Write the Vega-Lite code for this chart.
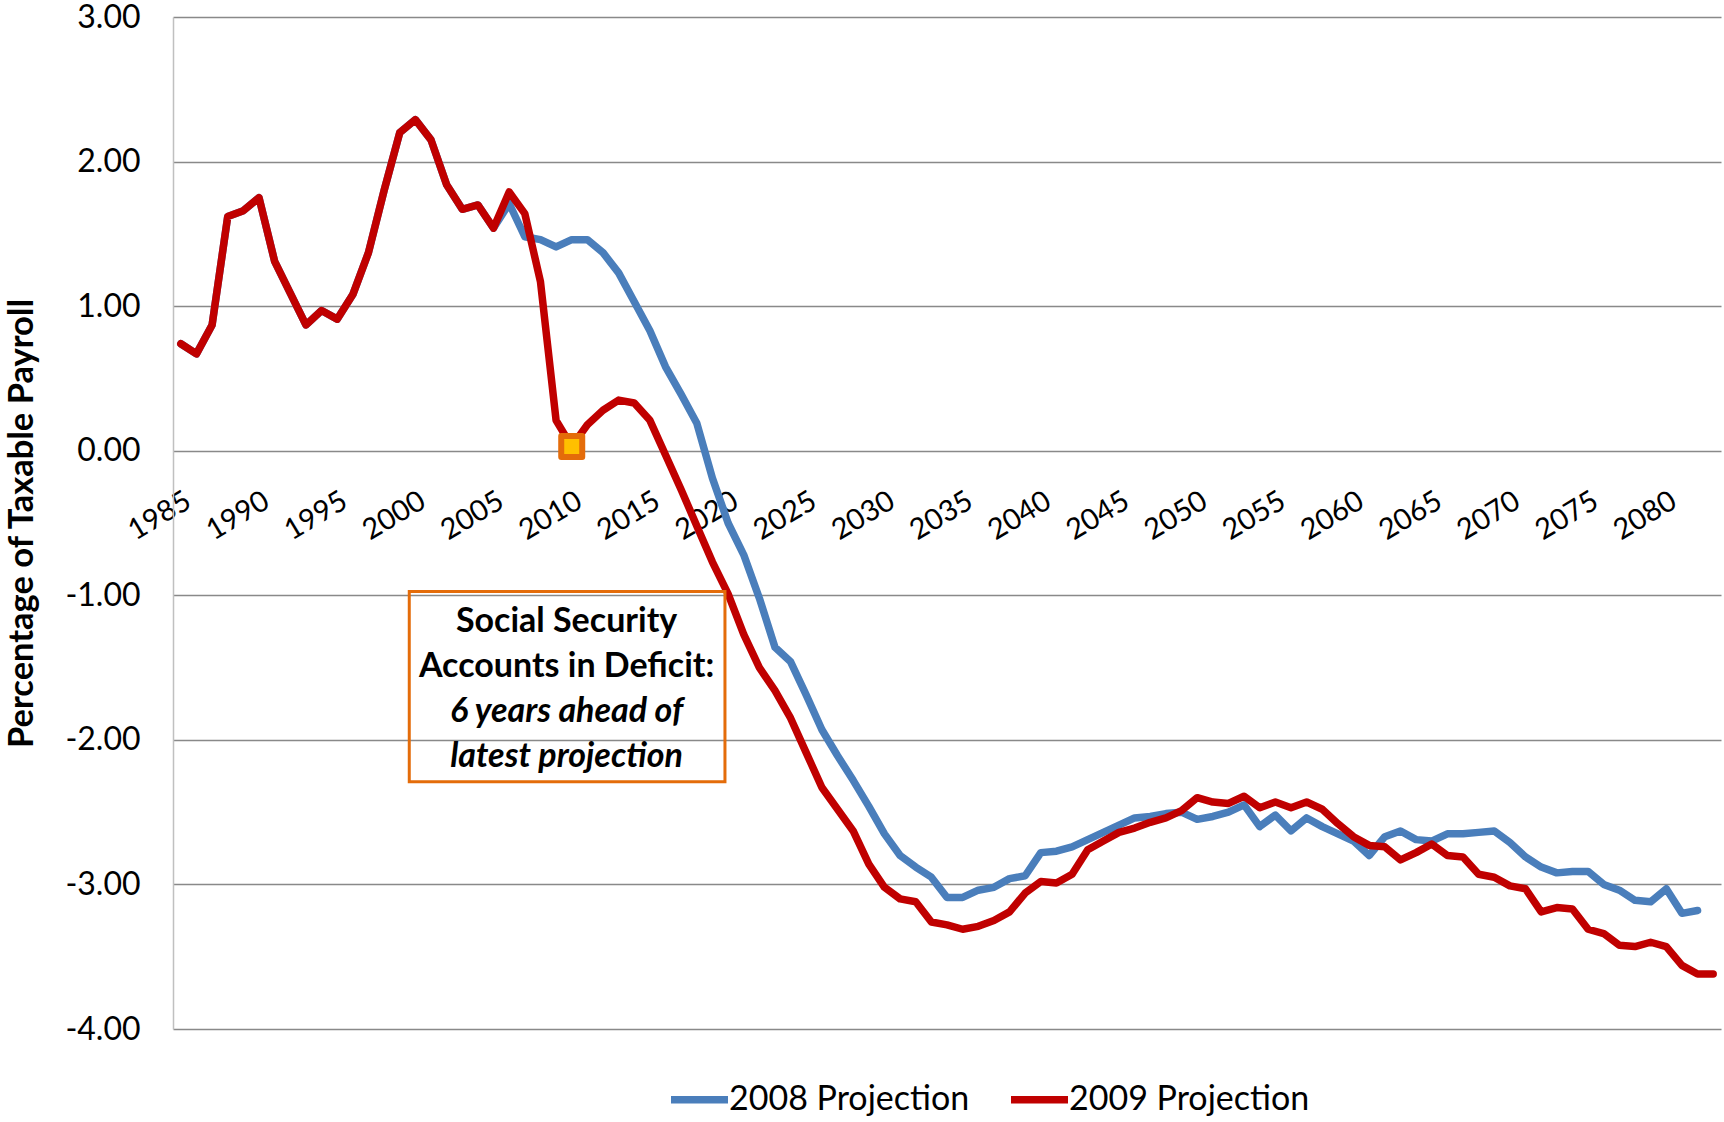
{
  "$schema": "https://vega.github.io/schema/vega-lite/v6.json",
  "width": 1548,
  "height": 1012,
  "autosize": {"type": "none"},
  "padding": {"left": 173, "top": 17, "right": 3, "bottom": 93},
  "background": "white",
  "config": {"view": {"stroke": null}, "font": "Lato"},
  "datasets": {
    "proj": [
      {"year":1985,"series":"2008 Projection","value":0.74},{"year":1986,"series":"2008 Projection","value":0.67},{"year":1987,"series":"2008 Projection","value":0.87},{"year":1988,"series":"2008 Projection","value":1.62},{"year":1989,"series":"2008 Projection","value":1.66},{"year":1990,"series":"2008 Projection","value":1.75},{"year":1991,"series":"2008 Projection","value":1.31},{"year":1992,"series":"2008 Projection","value":1.09},{"year":1993,"series":"2008 Projection","value":0.87},{"year":1994,"series":"2008 Projection","value":0.97},{"year":1995,"series":"2008 Projection","value":0.91},{"year":1996,"series":"2008 Projection","value":1.08},{"year":1997,"series":"2008 Projection","value":1.37},{"year":1998,"series":"2008 Projection","value":1.80},{"year":1999,"series":"2008 Projection","value":2.20},{"year":2000,"series":"2008 Projection","value":2.29},{"year":2001,"series":"2008 Projection","value":2.15},{"year":2002,"series":"2008 Projection","value":1.84},{"year":2003,"series":"2008 Projection","value":1.67},{"year":2004,"series":"2008 Projection","value":1.70},{"year":2005,"series":"2008 Projection","value":1.54},{"year":2006,"series":"2008 Projection","value":1.71},{"year":2007,"series":"2008 Projection","value":1.48},{"year":2008,"series":"2008 Projection","value":1.46},{"year":2009,"series":"2008 Projection","value":1.41},{"year":2010,"series":"2008 Projection","value":1.46},{"year":2011,"series":"2008 Projection","value":1.46},{"year":2012,"series":"2008 Projection","value":1.37},{"year":2013,"series":"2008 Projection","value":1.23},{"year":2014,"series":"2008 Projection","value":1.03},{"year":2015,"series":"2008 Projection","value":0.83},{"year":2016,"series":"2008 Projection","value":0.58},{"year":2017,"series":"2008 Projection","value":0.39},{"year":2018,"series":"2008 Projection","value":0.19},{"year":2019,"series":"2008 Projection","value":-0.19},{"year":2020,"series":"2008 Projection","value":-0.50},{"year":2021,"series":"2008 Projection","value":-0.72},{"year":2022,"series":"2008 Projection","value":-1.02},{"year":2023,"series":"2008 Projection","value":-1.36},{"year":2024,"series":"2008 Projection","value":-1.46},{"year":2025,"series":"2008 Projection","value":-1.69},{"year":2026,"series":"2008 Projection","value":-1.93},{"year":2027,"series":"2008 Projection","value":-2.11},{"year":2028,"series":"2008 Projection","value":-2.28},{"year":2029,"series":"2008 Projection","value":-2.46},{"year":2030,"series":"2008 Projection","value":-2.65},{"year":2031,"series":"2008 Projection","value":-2.80},{"year":2032,"series":"2008 Projection","value":-2.88},{"year":2033,"series":"2008 Projection","value":-2.95},{"year":2034,"series":"2008 Projection","value":-3.09},{"year":2035,"series":"2008 Projection","value":-3.09},{"year":2036,"series":"2008 Projection","value":-3.04},{"year":2037,"series":"2008 Projection","value":-3.02},{"year":2038,"series":"2008 Projection","value":-2.96},{"year":2039,"series":"2008 Projection","value":-2.94},{"year":2040,"series":"2008 Projection","value":-2.78},{"year":2041,"series":"2008 Projection","value":-2.77},{"year":2042,"series":"2008 Projection","value":-2.74},{"year":2043,"series":"2008 Projection","value":-2.69},{"year":2044,"series":"2008 Projection","value":-2.64},{"year":2045,"series":"2008 Projection","value":-2.59},{"year":2046,"series":"2008 Projection","value":-2.54},{"year":2047,"series":"2008 Projection","value":-2.53},{"year":2048,"series":"2008 Projection","value":-2.51},{"year":2049,"series":"2008 Projection","value":-2.50},{"year":2050,"series":"2008 Projection","value":-2.55},{"year":2051,"series":"2008 Projection","value":-2.53},{"year":2052,"series":"2008 Projection","value":-2.50},{"year":2053,"series":"2008 Projection","value":-2.45},{"year":2054,"series":"2008 Projection","value":-2.60},{"year":2055,"series":"2008 Projection","value":-2.52},{"year":2056,"series":"2008 Projection","value":-2.63},{"year":2057,"series":"2008 Projection","value":-2.54},{"year":2058,"series":"2008 Projection","value":-2.60},{"year":2059,"series":"2008 Projection","value":-2.65},{"year":2060,"series":"2008 Projection","value":-2.70},{"year":2061,"series":"2008 Projection","value":-2.80},{"year":2062,"series":"2008 Projection","value":-2.67},{"year":2063,"series":"2008 Projection","value":-2.63},{"year":2064,"series":"2008 Projection","value":-2.69},{"year":2065,"series":"2008 Projection","value":-2.70},{"year":2066,"series":"2008 Projection","value":-2.65},{"year":2067,"series":"2008 Projection","value":-2.65},{"year":2068,"series":"2008 Projection","value":-2.64},{"year":2069,"series":"2008 Projection","value":-2.63},{"year":2070,"series":"2008 Projection","value":-2.71},{"year":2071,"series":"2008 Projection","value":-2.81},{"year":2072,"series":"2008 Projection","value":-2.88},{"year":2073,"series":"2008 Projection","value":-2.92},{"year":2074,"series":"2008 Projection","value":-2.91},{"year":2075,"series":"2008 Projection","value":-2.91},{"year":2076,"series":"2008 Projection","value":-3.00},{"year":2077,"series":"2008 Projection","value":-3.04},{"year":2078,"series":"2008 Projection","value":-3.11},{"year":2079,"series":"2008 Projection","value":-3.12},{"year":2080,"series":"2008 Projection","value":-3.03},{"year":2081,"series":"2008 Projection","value":-3.20},{"year":2082,"series":"2008 Projection","value":-3.18},
      {"year":1985,"series":"2009 Projection","value":0.74},{"year":1986,"series":"2009 Projection","value":0.67},{"year":1987,"series":"2009 Projection","value":0.87},{"year":1988,"series":"2009 Projection","value":1.62},{"year":1989,"series":"2009 Projection","value":1.66},{"year":1990,"series":"2009 Projection","value":1.75},{"year":1991,"series":"2009 Projection","value":1.31},{"year":1992,"series":"2009 Projection","value":1.09},{"year":1993,"series":"2009 Projection","value":0.87},{"year":1994,"series":"2009 Projection","value":0.97},{"year":1995,"series":"2009 Projection","value":0.91},{"year":1996,"series":"2009 Projection","value":1.08},{"year":1997,"series":"2009 Projection","value":1.37},{"year":1998,"series":"2009 Projection","value":1.80},{"year":1999,"series":"2009 Projection","value":2.20},{"year":2000,"series":"2009 Projection","value":2.29},{"year":2001,"series":"2009 Projection","value":2.15},{"year":2002,"series":"2009 Projection","value":1.84},{"year":2003,"series":"2009 Projection","value":1.67},{"year":2004,"series":"2009 Projection","value":1.70},{"year":2005,"series":"2009 Projection","value":1.54},{"year":2006,"series":"2009 Projection","value":1.79},{"year":2007,"series":"2009 Projection","value":1.64},{"year":2008,"series":"2009 Projection","value":1.17},{"year":2009,"series":"2009 Projection","value":0.21},{"year":2010,"series":"2009 Projection","value":0.03},{"year":2011,"series":"2009 Projection","value":0.18},{"year":2012,"series":"2009 Projection","value":0.28},{"year":2013,"series":"2009 Projection","value":0.35},{"year":2014,"series":"2009 Projection","value":0.33},{"year":2015,"series":"2009 Projection","value":0.21},{"year":2016,"series":"2009 Projection","value":-0.03},{"year":2017,"series":"2009 Projection","value":-0.27},{"year":2018,"series":"2009 Projection","value":-0.52},{"year":2019,"series":"2009 Projection","value":-0.77},{"year":2020,"series":"2009 Projection","value":-0.99},{"year":2021,"series":"2009 Projection","value":-1.27},{"year":2022,"series":"2009 Projection","value":-1.50},{"year":2023,"series":"2009 Projection","value":-1.66},{"year":2024,"series":"2009 Projection","value":-1.85},{"year":2025,"series":"2009 Projection","value":-2.09},{"year":2026,"series":"2009 Projection","value":-2.33},{"year":2027,"series":"2009 Projection","value":-2.48},{"year":2028,"series":"2009 Projection","value":-2.63},{"year":2029,"series":"2009 Projection","value":-2.86},{"year":2030,"series":"2009 Projection","value":-3.02},{"year":2031,"series":"2009 Projection","value":-3.10},{"year":2032,"series":"2009 Projection","value":-3.12},{"year":2033,"series":"2009 Projection","value":-3.26},{"year":2034,"series":"2009 Projection","value":-3.28},{"year":2035,"series":"2009 Projection","value":-3.31},{"year":2036,"series":"2009 Projection","value":-3.29},{"year":2037,"series":"2009 Projection","value":-3.25},{"year":2038,"series":"2009 Projection","value":-3.19},{"year":2039,"series":"2009 Projection","value":-3.06},{"year":2040,"series":"2009 Projection","value":-2.98},{"year":2041,"series":"2009 Projection","value":-2.99},{"year":2042,"series":"2009 Projection","value":-2.93},{"year":2043,"series":"2009 Projection","value":-2.76},{"year":2044,"series":"2009 Projection","value":-2.70},{"year":2045,"series":"2009 Projection","value":-2.64},{"year":2046,"series":"2009 Projection","value":-2.61},{"year":2047,"series":"2009 Projection","value":-2.57},{"year":2048,"series":"2009 Projection","value":-2.54},{"year":2049,"series":"2009 Projection","value":-2.49},{"year":2050,"series":"2009 Projection","value":-2.40},{"year":2051,"series":"2009 Projection","value":-2.43},{"year":2052,"series":"2009 Projection","value":-2.44},{"year":2053,"series":"2009 Projection","value":-2.39},{"year":2054,"series":"2009 Projection","value":-2.47},{"year":2055,"series":"2009 Projection","value":-2.43},{"year":2056,"series":"2009 Projection","value":-2.47},{"year":2057,"series":"2009 Projection","value":-2.43},{"year":2058,"series":"2009 Projection","value":-2.48},{"year":2059,"series":"2009 Projection","value":-2.58},{"year":2060,"series":"2009 Projection","value":-2.67},{"year":2061,"series":"2009 Projection","value":-2.73},{"year":2062,"series":"2009 Projection","value":-2.74},{"year":2063,"series":"2009 Projection","value":-2.83},{"year":2064,"series":"2009 Projection","value":-2.78},{"year":2065,"series":"2009 Projection","value":-2.72},{"year":2066,"series":"2009 Projection","value":-2.80},{"year":2067,"series":"2009 Projection","value":-2.81},{"year":2068,"series":"2009 Projection","value":-2.93},{"year":2069,"series":"2009 Projection","value":-2.95},{"year":2070,"series":"2009 Projection","value":-3.01},{"year":2071,"series":"2009 Projection","value":-3.03},{"year":2072,"series":"2009 Projection","value":-3.19},{"year":2073,"series":"2009 Projection","value":-3.16},{"year":2074,"series":"2009 Projection","value":-3.17},{"year":2075,"series":"2009 Projection","value":-3.31},{"year":2076,"series":"2009 Projection","value":-3.34},{"year":2077,"series":"2009 Projection","value":-3.42},{"year":2078,"series":"2009 Projection","value":-3.43},{"year":2079,"series":"2009 Projection","value":-3.40},{"year":2080,"series":"2009 Projection","value":-3.43},{"year":2081,"series":"2009 Projection","value":-3.56},{"year":2082,"series":"2009 Projection","value":-3.62},{"year":2083,"series":"2009 Projection","value":-3.62}
    ],
    "box": [{"x1": 1999.61, "x2": 2019.8, "y1": -0.974, "y2": -2.289}],
    "note": [
      {"order": 1, "line": "Social Security", "x": 2009.67, "y": -1.254},
      {"order": 2, "line": "Accounts in Deficit:", "x": 2009.67, "y": -1.566},
      {"order": 3, "line": "6 years ahead of", "x": 2009.67, "y": -1.878},
      {"order": 4, "line": "latest projection", "x": 2009.67, "y": -2.19}
    ]
  },
  "layer": [
    {
      "data": {"name": "proj"},
      "mark": {"type": "line", "strokeWidth": 7.5, "strokeCap": "round", "strokeJoin": "round"},
      "encoding": {
        "x": {
          "field": "year", "type": "quantitative",
          "scale": {"domain": [1984.5, 2083.5], "nice": false, "zero": false},
          "axis": {
            "title": null,
            "values": [1985,1990,1995,2000,2005,2010,2015,2020,2025,2030,2035,2040,2045,2050,2055,2060,2065,2070,2075,2080],
            "format": "d", "labelAngle": -31, "labelAlign": "right", "labelBaseline": "top",
            "labelPadding": 35, "labelFontSize": 29, "labelColor": "#000000", "labelFont": "Lato",
            "ticks": false, "domain": false, "grid": false, "offset": -578,
            "labelFlush": false, "labelOverlap": false, "labelBound": false
          }
        },
        "y": {
          "field": "value", "type": "quantitative",
          "scale": {"domain": [-4, 3], "nice": false, "zero": false},
          "axis": {
            "title": "Percentage of Taxable Payroll",
            "values": [-4, -3, -2, -1, 0, 1, 2, 3],
            "labelExpr": "(datum.value < 0 ? '-' : '') + format(abs(datum.value), '.2f')",
            "labelFontSize": 32, "labelFont": "Lato", "labelColor": "#000000", "labelPadding": 33,
            "ticks": false, "domainColor": "#C0C0C0", "domainWidth": 1.5,
            "gridColor": "#898989", "gridWidth": 1.5,
            "titleFontSize": 34.5, "titleFontWeight": "bold", "titleFont": "Lato", "titleColor": "#000000",
            "titleX": -151, "titleY": 506, "titleAngle": -90, "titleAlign": "center", "titleBaseline": "middle"
          }
        },
        "color": {
          "field": "series", "type": "nominal",
          "scale": {"domain": ["2008 Projection", "2009 Projection"], "range": ["#4A7EBB", "#C00000"]},
          "legend": {
            "title": null, "orient": "none", "direction": "horizontal",
            "legendX": 494, "legendY": 1050,
            "symbolType": "stroke", "symbolSize": 3249, "symbolStrokeWidth": 7.5,
            "labelFontSize": 34, "labelFont": "Lato", "labelColor": "#000000", "labelLimit": 0,
            "labelOffset": -3, "columnPadding": 26
          }
        }
      }
    },
    {
      "data": {"name": "proj"},
      "transform": [{"filter": "datum.series === '2009 Projection' && datum.year === 2010"}],
      "mark": {"type": "point", "shape": "square", "filled": true, "fill": "#FFC000", "stroke": "#E46C0A", "strokeWidth": 6, "size": 441, "opacity": 1, "strokeJoin": "round"},
      "encoding": {
        "x": {"field": "year", "type": "quantitative"},
        "y": {"field": "value", "type": "quantitative"}
      }
    },
    {
      "data": {"name": "box"},
      "mark": {"type": "rect", "fill": "transparent", "stroke": "#E46C0A", "strokeWidth": 3},
      "encoding": {
        "x": {"field": "x1", "type": "quantitative"},
        "x2": {"field": "x2"},
        "y": {"field": "y1", "type": "quantitative"},
        "y2": {"field": "y2"}
      }
    },
    {
      "data": {"name": "note"},
      "transform": [{"filter": "datum.order <= 2"}],
      "mark": {"type": "text", "font": "Lato", "fontSize": 34, "fontWeight": "bold", "align": "center", "baseline": "alphabetic", "color": "#000000"},
      "encoding": {
        "x": {"field": "x", "type": "quantitative"},
        "y": {"field": "y", "type": "quantitative"},
        "text": {"field": "line"}
      }
    },
    {
      "data": {"name": "note"},
      "transform": [{"filter": "datum.order > 2"}],
      "mark": {"type": "text", "font": "Lato", "fontSize": 34, "fontWeight": "bold", "fontStyle": "italic", "align": "center", "baseline": "alphabetic", "color": "#000000"},
      "encoding": {
        "x": {"field": "x", "type": "quantitative"},
        "y": {"field": "y", "type": "quantitative"},
        "text": {"field": "line"}
      }
    }
  ]
}
